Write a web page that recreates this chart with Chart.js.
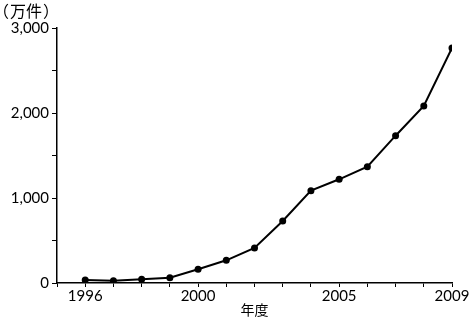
<!DOCTYPE html>
<html><head><meta charset="utf-8">
<script src="https://cdn.jsdelivr.net/npm/chart.js@4/dist/chart.umd.min.js"></script>
<style>html,body{margin:0;padding:0;background:#fff}#w{width:474px;height:318px}</style>
</head><body><div id="w"><canvas id="c" width="474" height="318"></canvas></div>
<script>
const years = [1996,1997,1998,1999,2000,2001,2002,2003,2004,2005,2006,2007,2008,2009];
const values = [35,27,43,62,161,267,413,729,1086,1220,1368,1733,2082,2765];
const xLabels = [1996,2000,2005,2009];
const yLabels = [0,1000,2000,3000];
const unitText = '万件';
const xTitle = '年度';
const FONT = 'Lato, "DejaVu Sans", sans-serif';

const unitPlugin = {
  id:'unit',
  afterDraw(chart){
    const ctx = chart.ctx;
    ctx.save();
    ctx.font = '16px "Noto Sans CJK JP"';
    ctx.fillStyle = '#000';
    ctx.textBaseline = 'middle';
    ctx.textAlign = 'left';
    ctx.fillText('（', -7, 11);
    ctx.fillText(unitText, 10, 11);
    ctx.fillText('）', 43, 11);
    ctx.restore();
  }
};

new Chart(document.getElementById('c'), {
  type:'line',
  data:{datasets:[{
    data: years.map((y,i)=>({x:y,y:values[i]})),
    borderColor:'#000', backgroundColor:'#000', borderWidth:2,
    pointRadius:3.5, pointHoverRadius:3.5, pointBackgroundColor:'#000', pointBorderWidth:0,
    tension:0
  }]},
  options:{
    responsive:false, animation:false, devicePixelRatio:1,
    layout:{padding:{top:28,right:22,left:0,bottom:0}},
    plugins:{legend:{display:false}, tooltip:{enabled:false}},
    scales:{
      x:{type:'linear', min:1995, max:2009,
        afterFit(s){s.height=35;},
        border:{display:true,color:'#000',width:1.5},
        grid:{drawOnChartArea:false, drawTicks:true, tickLength:4, color:'#000', lineWidth:1},
        ticks:{stepSize:1, autoSkip:false, maxRotation:0, padding:0, color:'#000',
          font:{family:FONT,size:15},
          callback:(v)=> xLabels.includes(v) ? String(v) : ''},
        title:{display:true, text:xTitle, color:'#000', padding:{top:-4,bottom:0},
          font:{family:'"Noto Sans CJK JP"', size:14}}
      },
      y:{min:0,max:3000,
        afterFit(s){s.width=57;},
        border:{display:true,color:'#000',width:1.5},
        grid:{drawOnChartArea:false, drawTicks:true, tickLength:5, color:'#000', lineWidth:1},
        ticks:{stepSize:500, padding:3, color:'#000',
          font:{family:FONT,size:15},
          callback:(v)=> yLabels.includes(v) ? v.toLocaleString('en-US') : ''}
      }
    }
  },
  plugins:[unitPlugin]
});
</script></body></html>
